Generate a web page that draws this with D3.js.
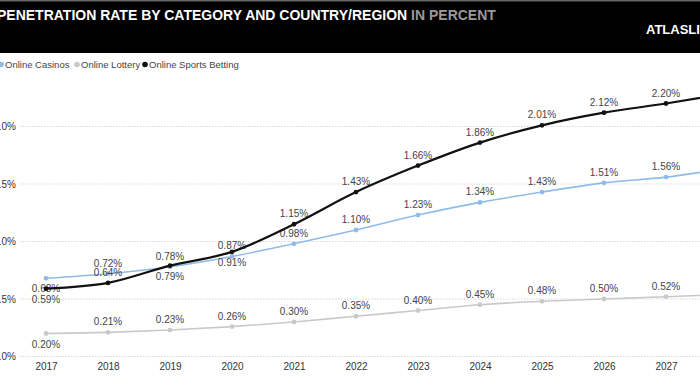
<!DOCTYPE html>
<html><head><meta charset="utf-8">
<script src="https://cdn.jsdelivr.net/npm/d3@7"></script>
<style>html,body{margin:0;padding:0;background:#fff;overflow:hidden}svg{display:block;font-family:"Liberation Sans",Arial,sans-serif}</style>
</head><body>
<svg id="c" width="700" height="390"></svg>
<script>
const years = ["2017","2018","2019","2020","2021","2022","2023","2024","2025","2026","2027","2028"];
const casinos = [0.68,0.72,0.78,0.87,0.98,1.10,1.23,1.34,1.43,1.51,1.56,1.64];
const lottery = [0.20,0.21,0.23,0.26,0.30,0.35,0.40,0.45,0.48,0.50,0.52,0.54];
const sports = [0.59,0.64,0.79,0.91,1.15,1.43,1.66,1.86,2.01,2.12,2.20,2.29];
const yTicks = [0, 0.5, 1.0, 1.5, 2.0];
const seriesNames = ["Online Casinos","Online Lottery","Online Sports Betting"];
const titleMain = "PENETRATION RATE BY CATEGORY AND COUNTRY/REGION";
const titleUnit = "IN PERCENT";

const colors = {"Online Casinos":"#8fbbe8","Online Lottery":"#c9c9c9","Online Sports Betting":"#111111"};
const widths = {"Online Casinos":1.6,"Online Lottery":1.6,"Online Sports Betting":2.2};
const labelBelow = {"Online Casinos":["2017"],"Online Lottery":["2017"],"Online Sports Betting":["2017","2019","2020"]};

const svg = d3.select("#c");
// header
svg.append("rect").attr("x",0).attr("y",0).attr("width",700).attr("height",53).attr("fill","#000");
svg.append("rect").attr("x",0).attr("y",0).attr("width",700).attr("height",1.5).attr("fill","#666");
const t = svg.append("text").attr("x",-3).attr("y",20).attr("font-size",14).attr("font-weight","bold").attr("fill","#fff");
t.append("tspan").text(titleMain + " ");
t.append("tspan").attr("fill","#9a9a9a").text(titleUnit);
svg.append("text").attr("x",646).attr("y",34).attr("font-size",13).attr("font-weight","bold").attr("fill","#fff").text("ATLASLIVE");

// legend
const legX = [1, 77, 145];
seriesNames.forEach((n,i)=>{
  svg.append("circle").attr("cx",legX[i]).attr("cy",64.5).attr("r",2.8).attr("fill",colors[n]);
  svg.append("text").attr("x",legX[i]+4).attr("y",68).attr("font-size",9.5).attr("fill","#444").text(n);
});

const x = d3.scalePoint().domain(years).range([46, 728]);
const y = d3.scaleLinear().domain([0,2.0]).range([356.5,126.5]);

// gridlines
const g = svg.append("g");
g.selectAll("line.grid").data(yTicks).join("line")
  .attr("x1",20).attr("x2",700).attr("y1",d=>y(d)).attr("y2",d=>y(d))
  .attr("stroke","#d6d6d6").attr("stroke-width",1).attr("stroke-dasharray","1.5,1.5");
g.selectAll("text.yl").data(yTicks).join("text")
  .attr("x",16).attr("y",d=>y(d)+3.5).attr("text-anchor","end").attr("font-size",10).attr("fill","#333")
  .text(d=>d3.format(".1f")(d)+"%");

// x axis
const xa = svg.append("g").attr("transform","translate(0,356.5)").call(d3.axisBottom(x).tickSize(0).tickPadding(6));
xa.select(".domain").remove();
xa.selectAll("text").attr("font-size",10).attr("fill","#333").attr("font-family","Liberation Sans, Arial, sans-serif");

const data = {"Online Casinos":casinos,"Online Lottery":lottery,"Online Sports Betting":sports};
const line = d3.line().x((d,i)=>x(years[i])).y(d=>y(d)).curve(d3.curveMonotoneX);
["Online Lottery","Online Casinos","Online Sports Betting"].forEach(n=>{
  const vals = data[n];
  svg.append("path").attr("d",line(vals)).attr("fill","none").attr("stroke",colors[n]).attr("stroke-width",widths[n]);
  svg.selectAll(null).data(vals).join("circle")
    .attr("cx",(d,i)=>x(years[i])).attr("cy",d=>y(d)).attr("r",2.4).attr("fill",colors[n]);
  svg.selectAll(null).data(vals).join("text")
    .attr("x",(d,i)=>x(years[i])).attr("y",(d,i)=> labelBelow[n].includes(years[i]) ? y(d)+14 : y(d)-7)
    .attr("text-anchor","middle").attr("font-size",10).attr("fill","#444")
    .text(d=>d3.format(".2f")(d)+"%");
});
</script>
</body></html>
